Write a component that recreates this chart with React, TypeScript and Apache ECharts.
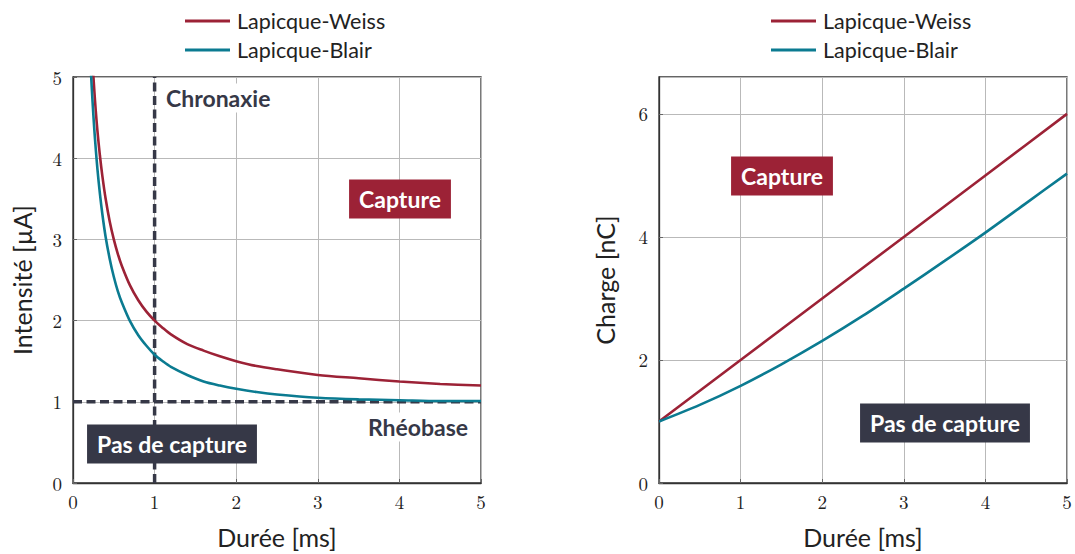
import React, { useEffect, useRef } from "react";
import * as echarts from "echarts";

// Left panel: intensity vs duration
const durationsI = [0.2, 0.22, 0.24, 0.26, 0.28, 0.3, 0.33, 0.36, 0.4, 0.45, 0.5, 0.55, 0.6, 0.7, 0.8, 0.9, 1, 1.1, 1.2, 1.4, 1.6, 1.8, 2, 2.25, 2.5, 3, 3.5, 4, 4.5, 5];
const weissI = [6.0, 5.55, 5.17, 4.85, 4.57, 4.33, 4.03, 3.78, 3.5, 3.22, 3.0, 2.82, 2.67, 2.43, 2.25, 2.11, 2.0, 1.91, 1.83, 1.71, 1.63, 1.56, 1.5, 1.44, 1.4, 1.33, 1.29, 1.25, 1.22, 1.2];
const blairI = [5.52, 5.06, 4.69, 4.37, 4.1, 3.86, 3.56, 3.31, 3.03, 2.76, 2.54, 2.36, 2.22, 1.99, 1.82, 1.69, 1.58, 1.5, 1.43, 1.33, 1.25, 1.2, 1.16, 1.12, 1.09, 1.05, 1.03, 1.02, 1.01, 1.01];

// Right panel: charge vs duration
const durationsQ = [0, 0.5, 1, 1.5, 2, 2.5, 3, 3.5, 4, 4.5, 5];
const weissQ = [1.0, 1.5, 2.0, 2.5, 3.0, 3.5, 4.0, 4.5, 5.0, 5.5, 6.0];
const blairQ = [1.0, 1.27, 1.58, 1.93, 2.31, 2.72, 3.16, 3.61, 4.07, 4.55, 5.03];

const seriesNames = ["Lapicque-Weiss", "Lapicque-Blair"];
const chronaxie = 1;
const rheobase = 1;

const RED = "#9c2236";
const TEAL = "#0b7b91";
const DARK = "#363847";
const SANS = "'Source Sans Pro', Lato, 'Noto Sans', sans-serif";
const SERIF = "'Latin Modern Roman', 'Liberation Serif', serif";

const pairs = (xs: number[], ys: number[]) => xs.map((x, i) => [x, ys[i]]);

export default function App() {
  const ref = useRef<HTMLDivElement>(null);
  useEffect(() => {
    if (!ref.current) return;
    const chart = echarts.init(ref.current, null, { renderer: "svg" });

    const xAxisBase = (gridIndex: number) => ({
      type: "value",
      gridIndex,
      min: 0,
      max: 5,
      interval: 1,
      name: "Durée [ms]",
      nameLocation: "middle",
      nameGap: 41,
      nameTextStyle: { fontFamily: SANS, fontSize: 25, color: "#222" },
      axisLine: { show: true, onZero: false, lineStyle: { color: "#333", width: 1.3 } },
      axisTick: { show: true, inside: true, length: 4, lineStyle: { color: "#666" } },
      axisLabel: { fontFamily: SERIF, fontSize: 19, color: "#222", margin: 9 },
      splitLine: { show: true, lineStyle: { color: "#b9b9b9", width: 1 } },
    });

    const yAxisBase = (gridIndex: number, max: number, interval: number, name: string, nameGap: number) => ({
      type: "value",
      gridIndex,
      min: 0,
      max,
      interval,
      name,
      nameLocation: "middle",
      nameGap,
      nameTextStyle: { fontFamily: SANS, fontSize: 25, color: "#222" },
      axisLine: { show: true, onZero: false, lineStyle: { color: "#333", width: 1.3 } },
      axisTick: { show: true, inside: true, length: 4, lineStyle: { color: "#666" } },
      axisLabel: { fontFamily: SERIF, fontSize: 19, color: "#222", margin: 11, showMaxLabel: max % interval === 0 },
      splitLine: { show: true, lineStyle: { color: "#b9b9b9", width: 1 } },
    });

    const legendBase = (left: number) => ({
      left,
      top: 5,
      orient: "vertical",
      data: seriesNames.map((name) => ({ name, icon: "rect" })),
      itemWidth: 45,
      itemHeight: 3,
      itemGap: 7,
      selectedMode: false,
      textStyle: { fontFamily: SANS, fontSize: 21.5, color: "#222", lineHeight: 22, padding: [0, 0, 0, 2] },
    });

    const annot = (text: string, x: number, y: number, bg: string, fill: string, pad: number[], align = "center") => ({
      type: "text",
      x,
      y,
      z: 100,
      style: {
        text,
        fill,
        fontFamily: SANS,
        fontSize: 23,
        fontWeight: "bold",
        backgroundColor: bg,
        padding: pad,
        align,
        verticalAlign: "middle",
      },
    });

    const dashStyle = { color: DARK, width: 3.5, type: [9, 4.5] };

    chart.setOption({
      animation: false,
      legend: [legendBase(180), legendBase(766)],
      grid: [
        { left: 73, top: 77, width: 408, height: 408, show: true, borderColor: "#333", borderWidth: 1.3, containLabel: false },
        { left: 659, top: 77, width: 408, height: 408, show: true, borderColor: "#333", borderWidth: 1.3, containLabel: false },
      ],
      xAxis: [xAxisBase(0), xAxisBase(1)],
      yAxis: [
        yAxisBase(0, 5, 1, "Intensité [µA]", 39),
        yAxisBase(1, 6.6, 2, "Charge [nC]", 42),
      ],
      series: [
        {
          name: "chronaxie",
          type: "line",
          xAxisIndex: 0,
          yAxisIndex: 0,
          data: [[chronaxie, 0], [chronaxie, 5]],
          symbol: "none",
          lineStyle: dashStyle,
          z: 1,
          silent: true,
        },
        {
          name: "rheobase",
          type: "line",
          xAxisIndex: 0,
          yAxisIndex: 0,
          data: [[0, rheobase], [5, rheobase]],
          symbol: "none",
          lineStyle: dashStyle,
          z: 1,
          silent: true,
        },
        {
          name: seriesNames[0],
          type: "line",
          xAxisIndex: 0,
          yAxisIndex: 0,
          data: pairs(durationsI, weissI),
          smooth: 0.3,
          symbol: "none",
          clip: true,
          color: RED,
          lineStyle: { color: RED, width: 2.6 },
          z: 3,
        },
        {
          name: seriesNames[1],
          type: "line",
          xAxisIndex: 0,
          yAxisIndex: 0,
          data: pairs(durationsI, blairI),
          smooth: 0.3,
          symbol: "none",
          clip: true,
          color: TEAL,
          lineStyle: { color: TEAL, width: 2.6 },
          z: 3,
        },
        {
          name: seriesNames[0],
          type: "line",
          xAxisIndex: 1,
          yAxisIndex: 1,
          data: pairs(durationsQ, weissQ),
          symbol: "none",
          color: RED,
          lineStyle: { color: RED, width: 2.6 },
        },
        {
          name: seriesNames[1],
          type: "line",
          xAxisIndex: 1,
          yAxisIndex: 1,
          data: pairs(durationsQ, blairQ),
          smooth: 0.3,
          symbol: "none",
          color: TEAL,
          lineStyle: { color: TEAL, width: 2.6 },
        },
      ],
      graphic: [
        annot("Chronaxie", 163, 98, "#ffffff", DARK, [3, 3], "left"),
        annot("Rhéobase", 418, 427, "#ffffff", DARK, [3, 3]),
        annot("Capture", 400, 199, RED, "#ffffff", [8, 10]),
        annot("Pas de capture", 172, 444, DARK, "#ffffff", [8, 10]),
        annot("Capture", 782, 176, RED, "#ffffff", [8, 10]),
        annot("Pas de capture", 945, 423, DARK, "#ffffff", [8, 10]),
      ],
    });
    return () => chart.dispose();
  }, []);
  return (
    <div
      ref={ref}
      style={{ position: "fixed", left: 0, top: 0, width: 1075, height: 554, background: "#fff" }}
    />
  );
}
